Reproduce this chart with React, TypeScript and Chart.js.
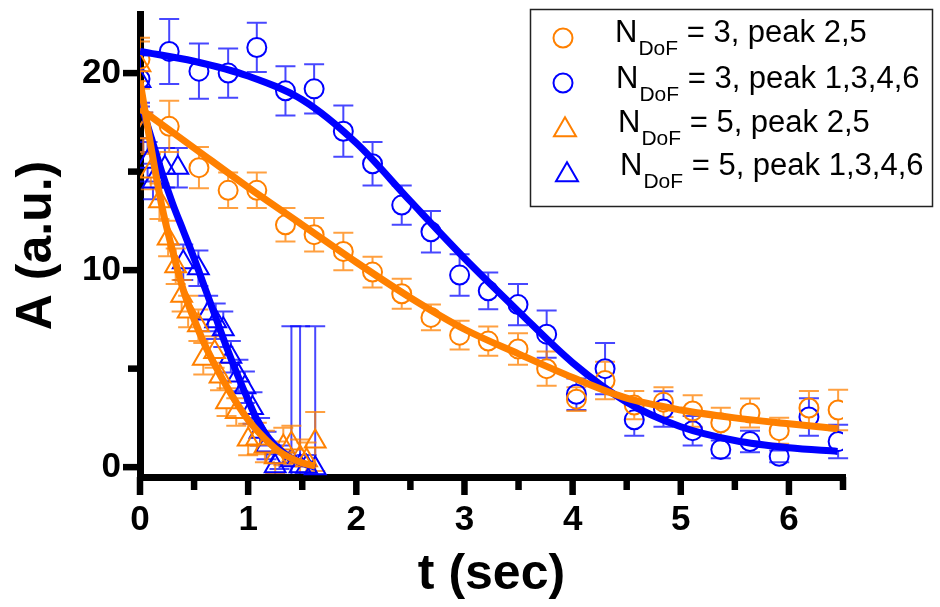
import React, { useEffect, useRef } from 'react';
import { Chart, registerables } from 'chart.js';

Chart.register(...registerables);

const ORANGE = 'rgb(255,128,0)';
const BLUE = 'rgb(0,0,255)';
const ORANGE_BAR = 'rgba(255,128,0,0.75)';
const BLUE_BAR = 'rgba(0,0,255,0.72)';
const FONT = "'Liberation Sans', Arial, Helvetica, sans-serif";

// ---- axis ticks ----
const xTicks = [0, 0.5, 1, 1.5, 2, 2.5, 3, 3.5, 4, 4.5, 5, 5.5, 6, 6.5];
const xTickLabels = ['0', '', '1', '', '2', '', '3', '', '4', '', '5', '', '6', ''];
const yTicks = [0, 5, 10, 15, 20];
const yTickLabels = ['0', '', '10', '', '20'];

// ---- circles (N_DoF = 3) ----
const tCircle = [0, 0.27, 0.545, 0.815, 1.08, 1.345, 1.61, 1.88, 2.15, 2.42, 2.69, 2.955, 3.22, 3.495, 3.76, 4.035, 4.3, 4.57, 4.84, 5.11, 5.37, 5.64, 5.91, 6.185, 6.455];
const aOrangeCircle = [20.7, 17.3, 15.2, 14.05, 14.05, 12.3, 11.8, 10.95, 9.9, 8.8, 7.6, 6.7, 6.4, 6.0, 5.0, 3.45, 4.4, 3.15, 3.3, 2.85, 2.25, 2.75, 1.85, 3.0, 2.9];
const eOrangeCircle = [1.1, 1.3, 1.05, 0.9, 0.9, 0.85, 0.85, 0.95, 0.78, 0.76, 0.65, 0.73, 0.74, 0.8, 0.87, 0.6, 0.95, 0.72, 0.76, 0.8, 0.76, 0.74, 0.66, 0.87, 1.03];
const aBlueCircle = [19.7, 21.1, 20.1, 20.0, 21.3, 19.1, 19.2, 17.05, 15.4, 13.3, 11.95, 9.75, 8.95, 8.25, 6.75, 3.7, 5.0, 2.4, 2.95, 1.85, 0.9, 1.3, 0.55, 2.55, 1.3];
const eBlueCircle = [1.2, 1.65, 1.4, 1.25, 1.25, 1.25, 1.25, 1.3, 1.1, 1.0, 1.05, 1.05, 0.93, 1.05, 1.2, 0.8, 1.3, 0.8, 0.9, 0.75, 0.45, 0.55, 0.3, 0.95, 0.85];

// ---- triangles (N_DoF = 5) ----
const tOrangeTri = [0, 0.03, 0.1, 0.18, 0.26, 0.33, 0.385, 0.445, 0.54, 0.585, 0.69, 0.74, 0.8, 0.89, 1.0, 1.08, 1.155, 1.25, 1.325, 1.4, 1.48, 1.54, 1.62];
const aOrangeTri = [20.4, 17.0, 15.0, 13.5, 11.6, 10.2, 8.7, 7.9, 7.2, 5.5, 5.85, 4.6, 3.3, 2.8, 1.4, 1.45, 1.05, 0.5, 1.05, 1.2, 0.5, 0.35, 1.3];
const eOrangeTri = [1.2, 1.0, 0.9, 0.9, 0.9, 0.9, 0.8, 0.8, 0.8, 0.8, 0.8, 0.7, 0.7, 0.7, 0.8, 0.8, 0.8, 0.8, 0.95, 0.9, 0.9, 0.9, 1.5];
const tBlueTri = [0, 0.03, 0.07, 0.12, 0.23, 0.35, 0.4, 0.54, 0.63, 0.7, 0.77, 0.84, 0.91, 0.97, 1.04, 1.11, 1.17, 1.25, 1.29, 1.4, 1.48, 1.54, 1.62];
const aBlueTri = [19.6, 17.0, 15.5, 14.5, 15.2, 15.2, 10.4, 10.1, 7.8, 7.4, 7.0, 5.6, 4.65, 4.05, 3.0, 1.8, 1.1, 0.05, 0.5, 0.35, 0.05, 0.02, -0.05];
const eBlueTri = [1.3, 1.0, 1.0, 0.9, 1.0, 1.0, 0.9, 0.9, 0.9, 0.9, 0.9, 0.8, 0.8, 0.8, 0.8, 0.7, 0.7, 0.6, 0.6, 6.8, 7.1, 0.6, 7.2];

// ---- fitted curves ----
const tFitCircle = [0, 0.5, 1.0, 1.5, 2.0, 2.5, 3.0, 3.5, 4.0, 4.5, 5.0, 5.5, 6.0, 6.45];
const aFitOrangeCircle = [18.2, 16.2, 14.2, 12.3, 10.4, 8.6, 7.0, 5.75, 4.55, 3.5, 2.9, 2.5, 2.2, 1.95];
const aFitBlueCircle = [21.1, 20.6, 19.85, 18.65, 16.45, 13.5, 10.6, 7.9, 5.3, 3.3, 2.05, 1.35, 0.98, 0.8];
const tFitTri = [0, 0.1, 0.2, 0.3, 0.4, 0.5, 0.6, 0.7, 0.8, 0.9, 1.0, 1.1, 1.2, 1.3, 1.4, 1.5, 1.62];
const aFitOrangeTri = [19.6, 16.3, 13.3, 11.0, 9.0, 7.5, 6.2, 5.1, 4.1, 3.2, 2.4, 1.75, 1.2, 0.75, 0.45, 0.22, 0.05];
const aFitBlueTri = [18.6, 16.8, 15.0, 13.4, 12.0, 10.6, 9.1, 7.6, 6.1, 4.7, 3.4, 2.2, 1.4, 0.85, 0.45, 0.2, 0.0];

// ---- legend ----
const legendMain = ['N', 'N', 'N', 'N'];
const legendSub = ['DoF', 'DoF', 'DoF', 'DoF'];
const legendRest = [' = 3, peak 2,5', ' = 3, peak 1,3,4,6', ' = 5, peak 2,5', ' = 5, peak 1,3,4,6'];
const legendColors = [ORANGE, BLUE, ORANGE, BLUE];
const legendShapes = ['circle', 'circle', 'triangle', 'triangle'];

const CIRCLE_R = 9.5;
const TRI_R = 12;

const errorSeries = [
  { t: tBlueTri, a: aBlueTri, e: eBlueTri, color: BLUE_BAR, shape: 'triangle' },
  { t: tOrangeTri, a: aOrangeTri, e: eOrangeTri, color: ORANGE_BAR, shape: 'triangle' },
  { t: tCircle, a: aBlueCircle, e: eBlueCircle, color: BLUE_BAR, shape: 'circle' },
  { t: tCircle, a: aOrangeCircle, e: eOrangeCircle, color: ORANGE_BAR, shape: 'circle' },
];

const errorBarPlugin = {
  id: 'errorBars',
  beforeDatasetsDraw(chart: any) {
    const { ctx, chartArea, scales } = chart;
    const xs = scales.x;
    const ys = scales.y;
    ctx.save();
    ctx.beginPath();
    ctx.rect(chartArea.left, 0, chartArea.right - chartArea.left + 10, chartArea.bottom - 3);
    ctx.clip();
    ctx.lineWidth = 2;
    for (const s of errorSeries) {
      ctx.strokeStyle = s.color;
      s.t.forEach((t: number, i: number) => {
        const px = xs.getPixelForValue(t);
        const py = ys.getPixelForValue(s.a[i]);
        const top = ys.getPixelForValue(s.a[i] + s.e[i]);
        const bot = ys.getPixelForValue(s.a[i] - s.e[i]);
        const upGap = s.shape === 'circle' ? CIRCLE_R : TRI_R;
        const downGap = s.shape === 'circle' ? CIRCLE_R : TRI_R / 2;
        ctx.beginPath();
        if (top < py - upGap) {
          ctx.moveTo(px, py - upGap);
          ctx.lineTo(px, top);
        }
        if (bot > py + downGap) {
          ctx.moveTo(px, py + downGap);
          ctx.lineTo(px, bot);
        }
        ctx.moveTo(px - 10, top);
        ctx.lineTo(px + 10, top);
        ctx.moveTo(px - 10, bot);
        ctx.lineTo(px + 10, bot);
        ctx.stroke();
      });
    }
    ctx.restore();
  },
};

const tickPlugin = {
  id: 'gpTicks',
  afterDraw(chart: any) {
    const { ctx, chartArea, scales } = chart;
    ctx.save();
    ctx.fillStyle = '#000';
    xTicks.forEach((v, i) => {
      const px = scales.x.getPixelForValue(v);
      const len = xTickLabels[i] !== '' ? 18 : 13;
      ctx.fillRect(px - 3.25, chartArea.bottom, 6.5, len);
    });
    yTicks.forEach((v, i) => {
      const py = scales.y.getPixelForValue(v);
      const len = yTickLabels[i] !== '' ? 17 : 12;
      ctx.fillRect(chartArea.left - len, py - 3.25, len, 6.5);
    });
    ctx.restore();
  },
};

function drawMarker(ctx: CanvasRenderingContext2D, shape: string, x: number, y: number, r: number) {
  ctx.beginPath();
  if (shape === 'circle') {
    ctx.arc(x, y, r, 0, Math.PI * 2);
  } else {
    for (let k = 0; k < 3; k++) {
      const ang = (k * 2 * Math.PI) / 3;
      const vx = x + Math.sin(ang) * r;
      const vy = y - Math.cos(ang) * r;
      if (k === 0) ctx.moveTo(vx, vy);
      else ctx.lineTo(vx, vy);
    }
    ctx.closePath();
  }
  ctx.stroke();
}

const legendPlugin = {
  id: 'gpLegend',
  afterDraw(chart: any) {
    const ctx: CanvasRenderingContext2D = chart.ctx;
    ctx.save();
    ctx.strokeStyle = '#222';
    ctx.lineWidth = 1.5;
    ctx.strokeRect(530.5, 9.5, 402, 197);
    const markerX = [563, 563, 565, 567];
    const markerY = [38, 83, 130, 175];
    const textX = [615, 616, 618, 620];
    const baseY = [42, 88, 132, 175];
    for (let i = 0; i < 4; i++) {
      ctx.strokeStyle = legendColors[i];
      ctx.lineWidth = 2;
      drawMarker(ctx, legendShapes[i], markerX[i], markerY[i], legendShapes[i] === 'circle' ? CIRCLE_R : 12.7);
      ctx.fillStyle = '#000';
      ctx.textBaseline = 'alphabetic';
      ctx.textAlign = 'left';
      ctx.font = `31px ${FONT}`;
      let x = textX[i];
      ctx.fillText(legendMain[i], x, baseY[i]);
      x += ctx.measureText(legendMain[i]).width + 1;
      ctx.font = `21px ${FONT}`;
      ctx.fillText(legendSub[i], x, baseY[i] + 12.5);
      x += ctx.measureText(legendSub[i]).width;
      ctx.font = `31px ${FONT}`;
      ctx.fillText(legendRest[i], x, baseY[i]);
    }
    ctx.restore();
  },
};

function pts(t: number[], a: number[]) {
  return t.map((v, i) => ({ x: v, y: a[i] }));
}

function markerDs(label: string, t: number[], a: number[], color: string, style: string, r: number, order: number) {
  return {
    label,
    data: pts(t, a),
    showLine: false,
    pointStyle: style,
    pointRadius: r,
    pointBorderWidth: 2,
    pointBorderColor: color,
    pointBackgroundColor: 'rgba(0,0,0,0)',
    borderColor: color,
    backgroundColor: 'rgba(0,0,0,0)',
    order,
  };
}

function fitDs(label: string, t: number[], a: number[], color: string, order: number) {
  return {
    label,
    data: pts(t, a),
    showLine: true,
    pointRadius: 0,
    borderColor: color,
    backgroundColor: color,
    borderWidth: 7,
    cubicInterpolationMode: 'monotone',
    order,
  };
}

export default function App() {
  const ref = useRef<HTMLCanvasElement>(null);
  useEffect(() => {
    const canvas = ref.current;
    if (!canvas) return;
    const chart = new Chart(canvas, {
      type: 'scatter',
      data: {
        datasets: [
          fitDs('fit orange tri', tFitTri, aFitOrangeTri, ORANGE, 0),
          fitDs('fit orange circle', tFitCircle, aFitOrangeCircle, ORANGE, 1),
          fitDs('fit blue tri', tFitTri, aFitBlueTri, BLUE, 2),
          fitDs('fit blue circle', tFitCircle, aFitBlueCircle, BLUE, 3),
          markerDs('N_DoF = 3, peak 2,5', tCircle, aOrangeCircle, ORANGE, 'circle', CIRCLE_R, 4),
          markerDs('N_DoF = 5, peak 2,5', tOrangeTri, aOrangeTri, ORANGE, 'triangle', TRI_R, 5),
          markerDs('N_DoF = 3, peak 1,3,4,6', tCircle, aBlueCircle, BLUE, 'circle', CIRCLE_R, 6),
          markerDs('N_DoF = 5, peak 1,3,4,6', tBlueTri, aBlueTri, BLUE, 'triangle', TRI_R, 7),
        ] as any,
      },
      options: {
        responsive: false,
        animation: false,
        devicePixelRatio: 1,
        events: [],
        layout: { padding: { left: 0, top: 13, right: 97, bottom: 0 } },
        plugins: { legend: { display: false }, tooltip: { enabled: false }, title: { display: false } },
        scales: {
          x: {
            type: 'linear',
            min: 0,
            max: 6.5,
            afterBuildTicks: (s: any) => {
              s.ticks = xTicks.map((v) => ({ value: v }));
            },
            afterFit: (s: any) => {
              s.height = 130;
              s.paddingLeft = 0;
              s.paddingRight = 0;
            },
            ticks: {
              autoSkip: false,
              maxRotation: 0,
              minRotation: 0,
              padding: 22,
              color: '#000',
              font: { family: FONT, size: 35, weight: 'bold' },
              callback: (_v: any, i: number) => xTickLabels[i],
            },
            grid: { drawOnChartArea: false, drawTicks: false, lineWidth: 6, color: '#000' },
            border: { display: true, width: 7, color: '#000' },
            title: {
              display: true,
              text: 't (sec)',
              color: '#000',
              font: { family: FONT, size: 50, weight: 'bold' },
              padding: { top: 0, bottom: 2 },
            },
          },
          y: {
            type: 'linear',
            min: -0.5,
            max: 23,
            afterBuildTicks: (s: any) => {
              s.ticks = yTicks.map((v) => ({ value: v }));
            },
            afterFit: (s: any) => {
              s.width = 140;
              s.paddingTop = 0;
              s.paddingBottom = 0;
            },
            ticks: {
              autoSkip: false,
              padding: 19,
              color: '#000',
              font: { family: FONT, size: 35, weight: 'bold' },
              callback: (_v: any, i: number) => yTickLabels[i],
            },
            grid: { drawOnChartArea: false, drawTicks: false, lineWidth: 6, color: '#000' },
            border: { display: true, width: 7, color: '#000' },
            title: {
              display: true,
              text: 'A (a.u.)',
              color: '#000',
              font: { family: FONT, size: 50, weight: 'bold' },
              padding: { top: 7, bottom: 0 },
            },
          },
        },
      } as any,
      plugins: [errorBarPlugin, tickPlugin, legendPlugin],
    });
    return () => chart.destroy();
  }, []);

  return (
    <div style={{ position: 'fixed', left: 0, top: 0, width: 940, height: 607, background: '#fff' }}>
      <canvas ref={ref} width={940} height={607} style={{ display: 'block', width: 940, height: 607 }} />
    </div>
  );
}
